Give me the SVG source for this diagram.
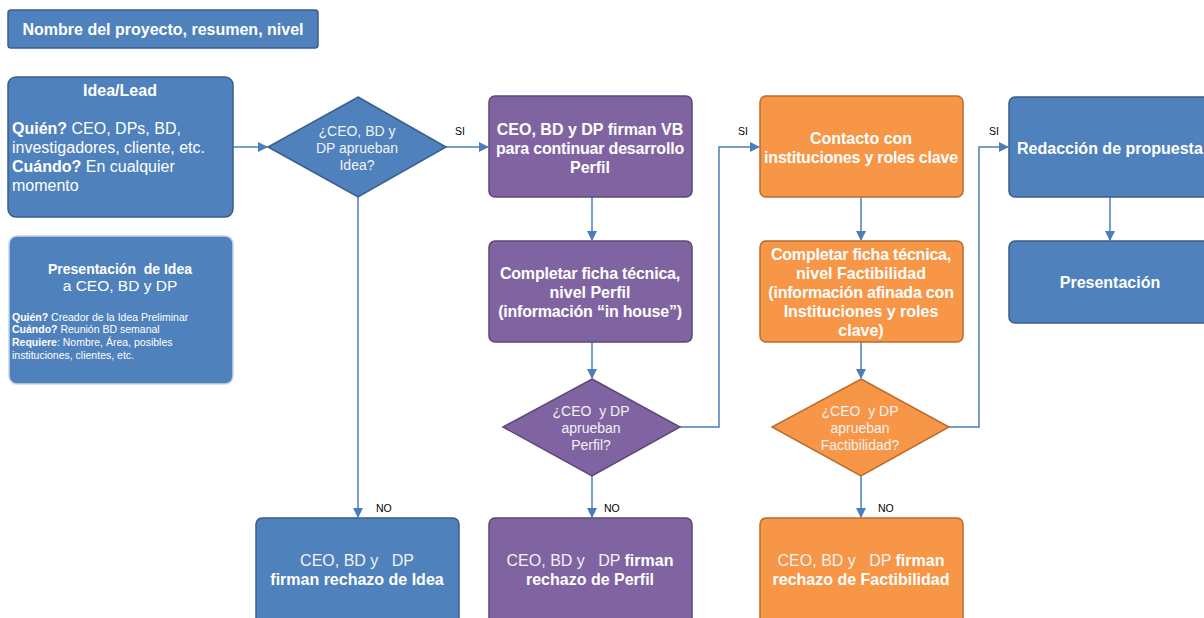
<svg xmlns="http://www.w3.org/2000/svg" width="1204" height="618" viewBox="0 0 1204 618">
<defs>
<style>
text{font-family:"Liberation Sans",Arial,sans-serif;fill:#fff;white-space:pre}
.b{font-weight:bold}
.t15{font-size:16px}
.t13{font-size:14px}
.c{text-anchor:middle}
.lt{fill:#F2F2F2}
.lbl{font-size:10.5px;fill:#000}
.blue{fill:#4F81BD;stroke:#385D8A;stroke-width:1.5}
.pur{fill:#8064A2;stroke:#5C4776;stroke-width:1.5}
.org{fill:#F79646;stroke:#B66D31;stroke-width:1.5}
.con{fill:none;stroke:#4A7EBB;stroke-width:1.5}
</style>
<marker id="ar" markerWidth="10" markerHeight="10" refX="9" refY="5" orient="auto" markerUnits="userSpaceOnUse">
<path d="M0,0 L10,5 L0,10 z" fill="#4A7EBB"/>
</marker>
</defs>
<rect width="1204" height="618" fill="#fff"/>

<g id="connectors">
<line class="con" x1="233" y1="147" x2="267" y2="147" marker-end="url(#ar)"/>
<line class="con" x1="446" y1="147" x2="488" y2="147" marker-end="url(#ar)"/>
<line class="con" x1="358" y1="197" x2="358" y2="517" marker-end="url(#ar)"/>
<line class="con" x1="592" y1="197" x2="592" y2="240" marker-end="url(#ar)"/>
<line class="con" x1="592" y1="342" x2="592" y2="378" marker-end="url(#ar)"/>
<line class="con" x1="592" y1="476" x2="592" y2="517" marker-end="url(#ar)"/>
<polyline class="con" points="680,427 719,427 719,147 759,147" marker-end="url(#ar)"/>
<line class="con" x1="861" y1="197" x2="861" y2="240" marker-end="url(#ar)"/>
<line class="con" x1="861" y1="342" x2="861" y2="378" marker-end="url(#ar)"/>
<line class="con" x1="861" y1="476" x2="861" y2="517" marker-end="url(#ar)"/>
<polyline class="con" points="949,427 979,427 979,147 1008,147" marker-end="url(#ar)"/>
<line class="con" x1="1110" y1="197" x2="1110" y2="240" marker-end="url(#ar)"/>
<text class="lbl" x="455" y="135">SI</text>
<text class="lbl" x="376" y="512">NO</text>
<text class="lbl" x="604" y="512">NO</text>
<text class="lbl" x="738" y="135">SI</text>
<text class="lbl" x="878" y="512">NO</text>
<text class="lbl" x="989" y="135">SI</text>
</g>

<g id="title">
<rect class="blue" x="8" y="10" width="310" height="38" rx="3"/>
<text class="b t15 c" x="163" y="35">Nombre del proyecto, resumen, nivel</text>
</g>

<g id="idea-lead">
<rect class="blue" x="8" y="77" width="225" height="140" rx="8"/>
<text class="b t15 c" x="120" y="96">Idea/Lead</text>
<text class="t15" x="12" y="134"><tspan class="b">Quién?</tspan> CEO, DPs, BD,</text>
<text class="t15" x="12" y="153">investigadores, cliente, etc.</text>
<text class="t15" x="12" y="172"><tspan class="b">Cuándo?</tspan> En cualquier</text>
<text class="t15" x="12" y="191">momento</text>
</g>

<g id="presentacion-idea">
<rect x="9" y="236" width="224" height="148" rx="8" fill="#4F81BD" stroke="#C6D5EA" stroke-width="1.5"/>
<text class="b c" x="120" y="274" font-size="14">Presentación  de Idea</text>
<text class="c" x="120" y="291" font-size="15.5" fill="#F2F2F2">a CEO, BD y DP</text>
<text x="12" y="321" font-size="10.5"><tspan class="b">Quién?</tspan> Creador de la Idea Preliminar</text>
<text x="12" y="333" font-size="10.5"><tspan class="b">Cuándo?</tspan> Reunión BD semanal</text>
<text x="12" y="346" font-size="10.5"><tspan class="b">Requiere</tspan>: Nombre, Área, posibles</text>
<text x="12" y="359" font-size="10.5">instituciones, clientes, etc.</text>
</g>

<g id="decision-idea">
<polygon class="blue" points="358,97 446,147 358,197 268,147"/>
<text class="t13 c lt" x="357" y="136">¿CEO, BD y</text>
<text class="t13 c lt" x="357" y="153">DP aprueban</text>
<text class="t13 c lt" x="357" y="170">Idea?</text>
</g>

<g id="vb-perfil">
<rect class="pur" x="489" y="96" width="203" height="101" rx="6"/>
<text class="b t15 c" x="590" y="135">CEO, BD y DP firman VB</text>
<text class="b t15 c" x="590" y="154" letter-spacing="-0.2">para continuar desarrollo</text>
<text class="b t15 c" x="590" y="173">Perfil</text>
</g>

<g id="ficha-perfil">
<rect class="pur" x="489" y="241" width="203" height="101" rx="6"/>
<text class="b t15 c" x="590" y="279" letter-spacing="-0.2">Completar ficha técnica,</text>
<text class="b t15 c" x="590" y="298">nivel Perfil</text>
<text class="b t15 c" x="590" y="317" letter-spacing="-0.2">(información “in house”)</text>
</g>

<g id="decision-perfil">
<polygon class="pur" points="592,379 680,427 592,476 503,427"/>
<text class="t13 c lt" x="591" y="416">¿CEO  y DP</text>
<text class="t13 c lt" x="591" y="433">aprueban</text>
<text class="t13 c lt" x="591" y="450">Perfil?</text>
</g>

<g id="rechazo-idea">
<rect class="blue" x="256" y="518" width="203" height="110" rx="6"/>
<text class="t15 c lt" x="357" y="566">CEO, BD y   DP</text>
<text class="b t15 c" x="357" y="585">firman rechazo de Idea</text>
</g>

<g id="rechazo-perfil">
<rect class="pur" x="489" y="518" width="203" height="110" rx="6"/>
<text class="t15 c" x="590" y="566"><tspan class="lt">CEO, BD y   DP </tspan><tspan class="b">firman</tspan></text>
<text class="b t15 c" x="590" y="585">rechazo de Perfil</text>
</g>

<g id="contacto">
<rect class="org" x="760" y="96" width="203" height="101" rx="6"/>
<text class="b t15 c" x="861" y="144">Contacto con</text>
<text class="b t15 c" x="861" y="163" letter-spacing="-0.2">instituciones y roles clave</text>
</g>

<g id="ficha-factibilidad">
<rect class="org" x="760" y="241" width="203" height="101" rx="6"/>
<text class="b t15 c" x="861" y="260" letter-spacing="-0.2">Completar ficha técnica,</text>
<text class="b t15 c" x="861" y="279">nivel Factibilidad</text>
<text class="b t15 c" x="861" y="298" letter-spacing="-0.2">(información afinada con</text>
<text class="b t15 c" x="861" y="317">Instituciones y roles</text>
<text class="b t15 c" x="861" y="336">clave)</text>
</g>

<g id="decision-factibilidad">
<polygon class="org" points="861,379 949,427 861,476 772,427"/>
<text class="t13 c lt" x="860" y="416">¿CEO  y DP</text>
<text class="t13 c lt" x="860" y="433">aprueban</text>
<text class="t13 c lt" x="860" y="450">Factibilidad?</text>
</g>

<g id="rechazo-factibilidad">
<rect class="org" x="760" y="518" width="203" height="110" rx="6"/>
<text class="t15 c" x="861" y="566"><tspan class="lt">CEO, BD y   DP </tspan><tspan class="b">firman</tspan></text>
<text class="b t15 c" x="861" y="585">rechazo de Factibilidad</text>
</g>

<g id="redaccion">
<rect class="blue" x="1009" y="97" width="203" height="100" rx="6"/>
<text class="b t15" x="1017" y="154">Redacción de propuesta</text>
</g>

<g id="presentacion">
<rect class="blue" x="1009" y="241" width="203" height="82" rx="6"/>
<text class="b t15 c" x="1110" y="288">Presentación</text>
</g>
</svg>
